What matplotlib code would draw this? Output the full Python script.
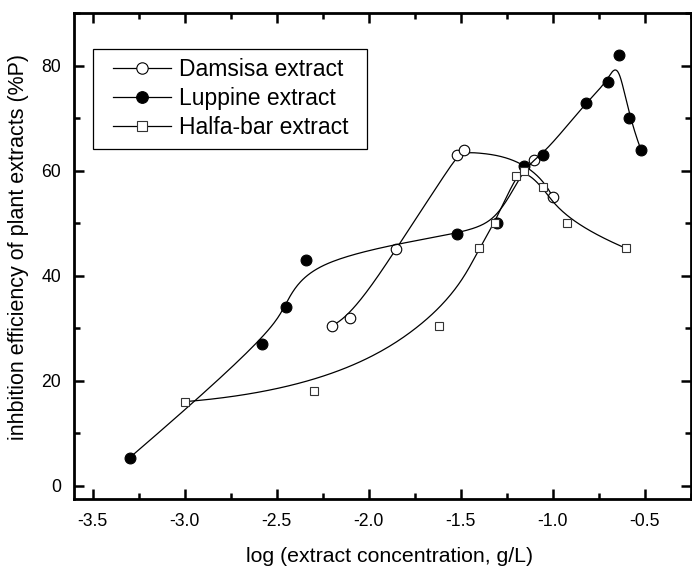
import numpy as np
import matplotlib
matplotlib.use("Agg")
import matplotlib.pyplot as plt
from matplotlib.lines import Line2D
from matplotlib.patches import Rectangle
from matplotlib.ticker import MultipleLocator, FuncFormatter

plt.rcParams['font.family'] = ['Liberation Sans', 'DejaVu Sans']

# ---- data ----
damsisa_x = [-2.2, -2.1, -1.85, -1.52, -1.48, -1.1, -1.0]
damsisa_y = [30.5, 32.0, 45.0, 63.0, 64.0, 62.0, 55.0]

luppine_x = [-3.3, -2.58, -2.45, -2.34, -1.52, -1.30, -1.155, -1.05, -0.82, -0.70, -0.64, -0.585, -0.52]
luppine_y = [5.3, 27.0, 34.0, 43.0, 48.0, 50.0, 61.0, 63.0, 73.0, 77.0, 82.0, 70.0, 64.0]

halfa_x = [-3.0, -2.3, -1.62, -1.40, -1.315, -1.20, -1.155, -1.05, -0.92, -0.60]
halfa_y = [16.0, 18.0, 30.4, 45.2, 50.1, 59.0, 60.0, 57.0, 50.0, 45.2]

labels = ["Damsisa extract", "Luppine extract", "Halfa-bar extract"]
xlabel = "log (extract concentration, g/L)"
ylabel = "inhbition efficiency of plant extracts (%P)"


def bspline(xs, ys, n=400):
    """Clamped uniform cubic B-spline using the data points as control points."""
    P = np.column_stack([xs, ys]).astype(float)
    m = len(P)
    k = 3
    inner = np.arange(1, m - k)
    knots = np.concatenate([np.zeros(k + 1), inner, np.full(k + 1, m - k)]).astype(float)
    t = np.linspace(0, m - k, n)
    t[-1] -= 1e-9
    N = np.zeros((n, len(knots) - 1))
    for i in range(len(knots) - 1):
        N[:, i] = ((t >= knots[i]) & (t < knots[i + 1])).astype(float)
    for d in range(1, k + 1):
        Nn = np.zeros((n, len(knots) - 1 - d))
        for i in range(len(knots) - 1 - d):
            a = knots[i + d] - knots[i]
            b = knots[i + d + 1] - knots[i + 1]
            term = np.zeros(n)
            if a > 0:
                term += (t - knots[i]) / a * N[:, i]
            if b > 0:
                term += (knots[i + d + 1] - t) / b * N[:, i + 1]
            Nn[:, i] = term
        N = Nn
    C = N @ P
    return C[:, 0], C[:, 1]


fig = plt.figure(figsize=(6.92, 5.69), dpi=100)
ax = fig.add_axes([0.1074, 0.1225, 0.8907, 0.8541])

series = [
    (damsisa_x, damsisa_y, dict(marker='o', ms=7.6, mfc='white', mec='black', mew=0.8)),
    (luppine_x, luppine_y, dict(marker='o', ms=7.8, mfc='black', mec='black', mew=0.8)),
    (halfa_x, halfa_y, dict(marker='s', ms=6.4, mfc='white', mec='#333333', mew=0.8)),
]
handles = []
z = 2.0
for (xs, ys, mk), lab in zip(series, labels):
    cx, cy = bspline(xs, ys)
    ax.plot(cx, cy, color='black', lw=0.9, zorder=z)
    ax.plot(xs, ys, ls='none', zorder=z + 0.1, **mk)
    z += 0.2
    hk = dict(mk)
    hk['ms'] = mk['ms'] + 0.6
    handles.append(Line2D([], [], color='black', lw=0.9, **hk))

ax.set_xlim(-3.6, -0.25)
ax.set_ylim(-2.6, 90)
ax.xaxis.set_major_locator(MultipleLocator(0.5))
ax.xaxis.set_minor_locator(MultipleLocator(0.25))
ax.yaxis.set_major_locator(MultipleLocator(20))
ax.yaxis.set_minor_locator(MultipleLocator(10))
ax.xaxis.set_major_formatter(FuncFormatter(lambda v, p: f"{v:.1f}"))
ax.yaxis.set_major_formatter(FuncFormatter(lambda v, p: f"{v:.0f}"))

ax.tick_params(which='both', direction='in', top=True, right=True, width=1.8, colors='black')
ax.tick_params(which='major', length=7.2)
ax.tick_params(which='minor', length=4.0)
ax.tick_params(axis='x', which='major', labelsize=12.7, pad=10)
ax.tick_params(axis='y', which='major', labelsize=12.7, pad=9.5)
for s in ax.spines.values():
    s.set_linewidth(2.0)

ax.set_xlabel(xlabel, fontsize=15.3, va='center')
ax.xaxis.set_label_coords(0.511, -0.118)
ax.set_ylabel(ylabel, fontsize=15.5, va='center', ha='center')
ax.yaxis.set_label_coords(-0.0913, 0.52)

# legend frame drawn separately, contents placed inside it
ax.add_patch(Rectangle((0.0299, 0.7208), 0.4445, 0.2057, transform=ax.transAxes,
                       facecolor='white', edgecolor='black', lw=0.9, zorder=5))
leg = ax.legend(handles, labels, loc='upper left', bbox_to_anchor=(0.0633, 0.9073),
                fontsize=16.5, frameon=False, handlelength=2.5,
                handletextpad=0.36, labelspacing=0.26, borderpad=0.0, borderaxespad=0)
leg.set_zorder(6)

fig.savefig('out.png', dpi=100)
